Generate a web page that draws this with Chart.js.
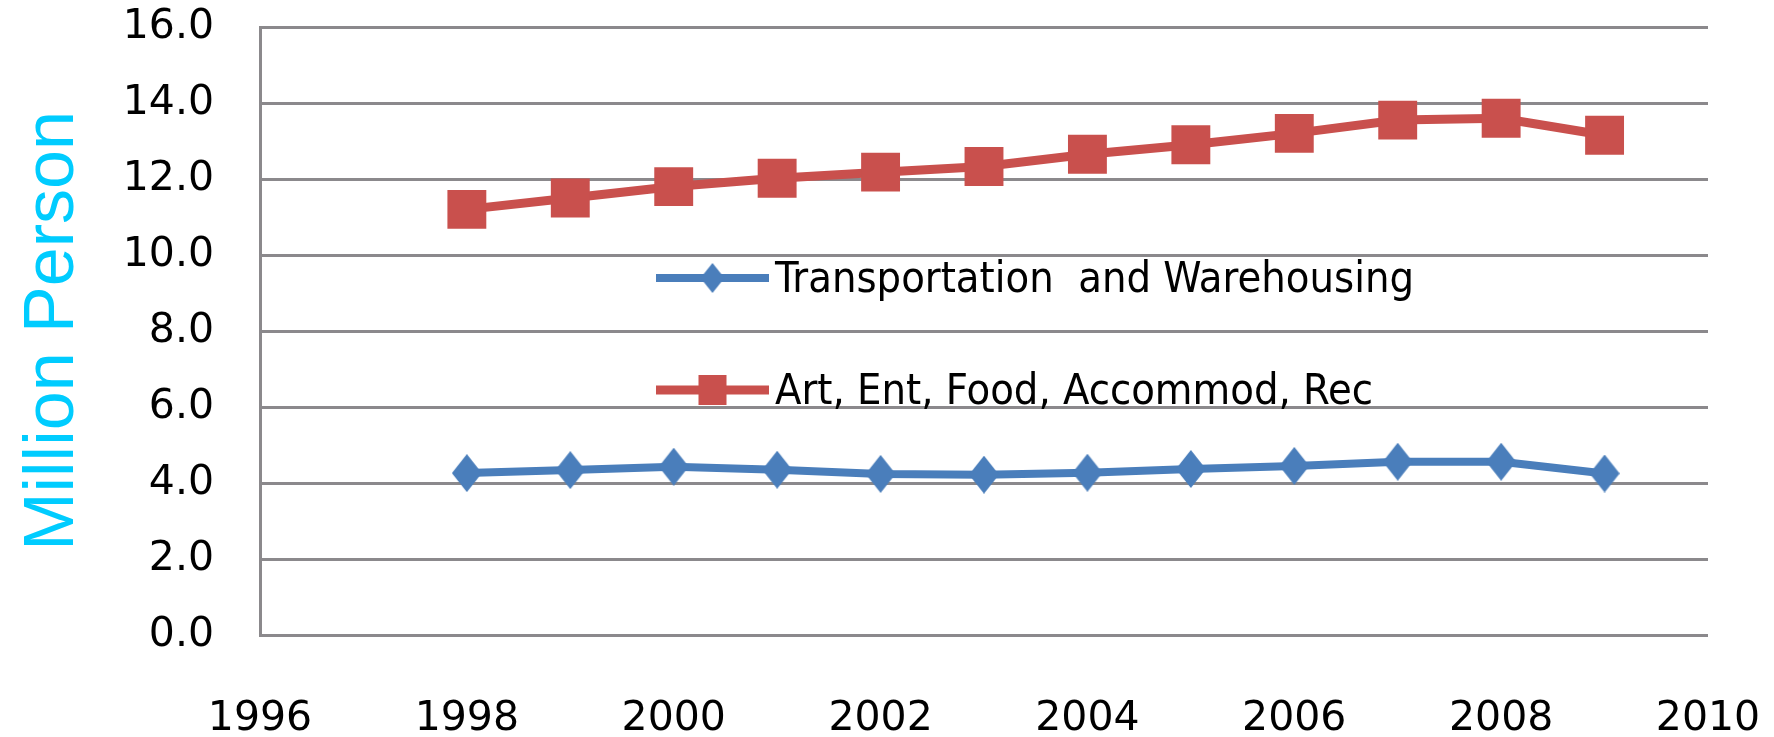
<!DOCTYPE html>
<html>
<head>
<meta charset="utf-8">
<script src="https://cdn.jsdelivr.net/npm/chart.js@4/dist/chart.umd.min.js"></script>
<style>
  html, body { margin: 0; padding: 0; background: #ffffff; }
  #wrap { width: 1774px; height: 737px; position: relative; }
</style>
</head>
<body>
<div id="wrap"><canvas id="c" width="1774" height="737"></canvas></div>
<script>
// ---- data ----
const years = [1998, 1999, 2000, 2001, 2002, 2003, 2004, 2005, 2006, 2007, 2008, 2009];
const transportation = [4.26, 4.34, 4.43, 4.35, 4.24, 4.22, 4.27, 4.37, 4.45, 4.56, 4.56, 4.25];
const artEntFood = [11.20, 11.50, 11.80, 12.02, 12.18, 12.33, 12.65, 12.90, 13.20, 13.55, 13.60, 13.15];
const seriesLabels = ['Transportation  and Warehousing', 'Art, Ent, Food, Accommod, Rec'];
const xTickValues = [1996, 1998, 2000, 2002, 2004, 2006, 2008, 2010];
const yTickValues = [0, 2, 4, 6, 8, 10, 12, 14, 16];
const yTitle = 'Million Person';

// ---- styles ----
const BLUE = '#4A7EBB';
const RED = '#C9504D';
const GRID = '#8B898C';
const NONE = 'rgba(0,0,0,0)';

function diamondCanvas(w, h, color) {
  const cv = document.createElement('canvas');
  cv.width = w; cv.height = h;
  const c = cv.getContext('2d');
  c.fillStyle = color;
  c.beginPath();
  c.moveTo(w / 2, 0); c.lineTo(w, h / 2); c.lineTo(w / 2, h); c.lineTo(0, h / 2);
  c.closePath(); c.fill();
  return cv;
}
const blueDiamond = diamondCanvas(30, 38, BLUE);
const blueDiamondLegend = diamondCanvas(24, 30, BLUE);

const toXY = (xs, ys) => xs.map((x, i) => ({ x: x, y: ys[i] }));

const legendPlugin = {
  id: 'inlineLegend',
  afterDatasetsDraw(chart, args, opts) {
    const ctx = chart.ctx;
    chart.data.datasets.forEach((ds, i) => {
      const y = opts.rows[i];
      ctx.save();
      ctx.strokeStyle = ds.borderColor;
      ctx.lineWidth = ds.borderWidth;
      ctx.beginPath();
      ctx.moveTo(opts.x0, y);
      ctx.lineTo(opts.x1, y);
      ctx.stroke();
      const mx = (opts.x0 + opts.x1) / 2;
      ctx.fillStyle = ds.backgroundColor;
      if (ds.legendMarker === 'diamond') {
        ctx.drawImage(blueDiamondLegend, mx - blueDiamondLegend.width / 2, y - blueDiamondLegend.height / 2);
      } else {
        ctx.fillRect(mx - 14, y - 15, 28, 30);
      }
      ctx.fillStyle = '#000000';
      ctx.font = opts.font;
      ctx.textBaseline = 'alphabetic';
      ctx.textAlign = 'left';
      ctx.fillText(ds.label, opts.textX, y + opts.baselineOffset);
      ctx.restore();
    });
  }
};

new Chart(document.getElementById('c'), {
  type: 'line',
  data: {
    datasets: [
      {
        label: seriesLabels[0],
        data: toXY(years, transportation),
        borderColor: BLUE,
        backgroundColor: BLUE,
        borderWidth: 8,
        pointStyle: blueDiamond,
        pointRadius: 19,
        tension: 0,
        legendMarker: 'diamond'
      },
      {
        label: seriesLabels[1],
        data: toXY(years, artEntFood),
        borderColor: RED,
        backgroundColor: RED,
        borderWidth: 9,
        pointStyle: 'rect',
        pointRadius: 27.5,
        pointBorderWidth: 0,
        tension: 0,
        legendMarker: 'square'
      }
    ]
  },
  options: {
    responsive: false,
    animation: false,
    devicePixelRatio: 1,
    layout: { autoPadding: false, padding: { top: 27, right: 66, bottom: 0, left: 0 } },
    plugins: {
      legend: { display: false },
      tooltip: { enabled: false },
      inlineLegend: {
        rows: [278, 390],
        x0: 656, x1: 769,
        textX: 775,
        baselineOffset: 14,
        font: '43px "DejaVu Sans Condensed", "DejaVu Sans", sans-serif'
      }
    },
    scales: {
      x: {
        type: 'linear',
        min: 1996, max: 2010,
        afterBuildTicks: (s) => { s.ticks = xTickValues.map(v => ({ value: v })); },
        afterFit: (s) => { s.height = 102; },
        grid: { display: true, color: NONE, tickColor: NONE, drawTicks: true, tickLength: 60 },
        border: { display: false },
        ticks: {
          padding: 0,
          maxRotation: 0,
          autoSkip: false,
          color: '#000000',
          font: { family: '"DejaVu Sans", sans-serif', size: 41 },
          callback: (v) => String(v)
        }
      },
      y: {
        type: 'linear',
        min: 0, max: 16,
        afterBuildTicks: (s) => { s.ticks = yTickValues.map(v => ({ value: v })); },
        afterFit: (s) => { s.width = 260; },
        grid: { color: GRID, lineWidth: 3, drawTicks: true, tickLength: 46, tickColor: NONE },
        border: { display: true, color: GRID, width: 3 },
        ticks: {
          padding: 0,
          color: '#000000',
          font: { family: '"DejaVu Sans", sans-serif', size: 41 },
          callback: (v) => Number(v).toFixed(1)
        },
        title: {
          display: true,
          text: yTitle,
          color: '#00CCFF',
          padding: { top: 12, bottom: 0 },
          font: { family: '"Liberation Sans", Arial, sans-serif', size: 70 }
        }
      }
    }
  },
  plugins: [legendPlugin]
});
</script>
</body>
</html>
